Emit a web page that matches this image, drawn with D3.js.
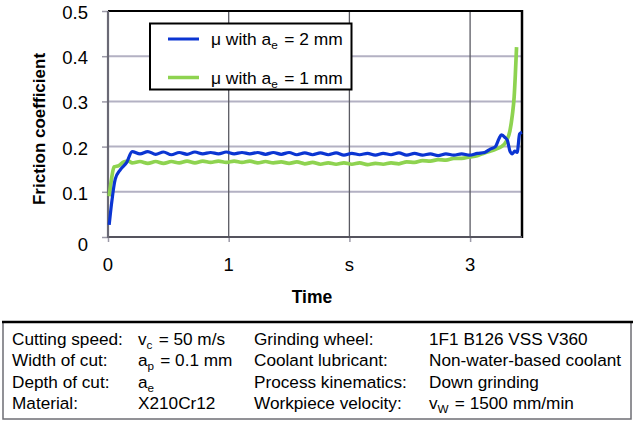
<!DOCTYPE html>
<html>
<head>
<meta charset="utf-8">
<script src="https://cdn.jsdelivr.net/npm/d3@7"></script>
<style>
  body { margin: 0; background: #fff; }
  svg { display: block; font-family: Arial, "Liberation Sans", sans-serif; }
</style>
</head>
<body>
<script>
// data
var blueTime = [0.01, 0.03, 0.06, 0.10, 0.155, 0.20, 0.265, 0.33, 0.395, 0.46, 0.525, 0.59, 0.655, 0.72, 0.785, 0.85, 0.915, 0.98,
  1.045, 1.11, 1.175, 1.24, 1.305, 1.37, 1.435, 1.50, 1.565, 1.63, 1.695, 1.76, 1.825, 1.89, 1.955, 2.02, 2.085, 2.15, 2.215, 2.28,
  2.345, 2.41, 2.475, 2.54, 2.605, 2.67, 2.735, 2.80, 2.865, 2.93, 2.995, 3.06, 3.12, 3.17, 3.21, 3.24, 3.26, 3.29, 3.31, 3.33,
  3.35, 3.37, 3.39, 3.41, 3.43];
var blueMu = [0.027, 0.075, 0.128, 0.148, 0.165, 0.189, 0.184, 0.189, 0.183, 0.188, 0.182, 0.187, 0.183, 0.188, 0.184, 0.187, 0.184, 0.188,
  0.184, 0.187, 0.184, 0.187, 0.183, 0.187, 0.183, 0.187, 0.182, 0.186, 0.182, 0.186, 0.182, 0.186, 0.181, 0.185, 0.182, 0.185, 0.181, 0.185,
  0.182, 0.186, 0.181, 0.185, 0.181, 0.184, 0.18, 0.184, 0.181, 0.184, 0.181, 0.185, 0.187, 0.195, 0.2, 0.218, 0.226, 0.22, 0.213, 0.19,
  0.184, 0.19, 0.187, 0.228, 0.232];

var greenTime = [0.01, 0.03, 0.05, 0.09, 0.13, 0.17, 0.20, 0.265, 0.33, 0.395, 0.46, 0.525, 0.59, 0.655, 0.72, 0.785, 0.85, 0.915, 0.98,
  1.045, 1.11, 1.175, 1.24, 1.305, 1.37, 1.435, 1.50, 1.565, 1.63, 1.695, 1.76, 1.825, 1.89, 1.955, 2.02, 2.085, 2.15, 2.215, 2.28,
  2.345, 2.41, 2.475, 2.54, 2.605, 2.67, 2.735, 2.80, 2.865, 2.93, 2.995, 3.06, 3.12, 3.17, 3.22, 3.26, 3.30, 3.33, 3.35, 3.365,
  3.375, 3.385];
var greenMu = [0.09, 0.13, 0.155, 0.158, 0.166, 0.168, 0.164, 0.167, 0.163, 0.167, 0.163, 0.167, 0.164, 0.168, 0.164, 0.168, 0.165, 0.168, 0.165,
  0.168, 0.165, 0.168, 0.164, 0.167, 0.164, 0.166, 0.163, 0.166, 0.162, 0.165, 0.161, 0.164, 0.161, 0.164, 0.161, 0.164, 0.16, 0.163, 0.161,
  0.164, 0.162, 0.166, 0.165, 0.169, 0.168, 0.171, 0.17, 0.174, 0.174, 0.177, 0.18, 0.186, 0.19, 0.195, 0.2, 0.212, 0.235, 0.27, 0.31,
  0.36, 0.42];

var yTicks = [0, 0.1, 0.2, 0.3, 0.4, 0.5];
var yTickLabels = ["0", "0.1", "0.2", "0.3", "0.4", "0.5"];
var xTicks = [0, 1, 2, 3];
var xTickLabels = ["0", "1", "s", "3"];

var seriesNames = ["\u03bc with a_{e} = 2 mm", "\u03bc with a_{e} = 1 mm"];

var paramNames1 = ["Cutting speed:", "Width of cut:", "Depth of cut:", "Material:"];
var paramValues1 = ["v_{c} = 50 m/s", "a_{p} = 0.1 mm", "a_{e}", "X210Cr12"];
var paramNames2 = ["Grinding wheel:", "Coolant lubricant:", "Process kinematics:", "Workpiece velocity:"];
var paramValues2 = ["1F1 B126 VSS V360", "Non-water-based coolant", "Down grinding", "v_{W} = 1500 mm/min"];

var W = 633, H = 422;
var plot = {left: 108, right: 522, top: 11, bottom: 237};
var blue = "#0b35d2", green = "#8ed350";

var svg = d3.select("body").append("svg")
  .attr("width", W)
  .attr("height", H);

var x = d3.scaleLinear().domain([0, 3.43]).range([plot.left, plot.right]);
var y = d3.scaleLinear().domain([0, 0.5]).range([plot.bottom, plot.top]);

// writes "a_{e}" style strings as text with subscripts
function richText(sel, str, size) {
  var parts = str.split(/_\{([^}]*)\}/);
  parts.forEach(function(p, i) {
    if (p === "") return;
    if (i % 2 === 1) {
      sel.append("tspan").attr("font-size", size * 0.68).attr("dy", 4).text(p);
      sel.append("tspan").attr("dy", -4).text("\u200a");
    } else {
      sel.append("tspan").text(p);
    }
  });
}

// grid
svg.append("g")
  .selectAll("line")
  .data(yTicks.slice(1, 5))
  .enter().append("line")
    .attr("x1", plot.left).attr("x2", plot.right)
    .attr("y1", function(d) { return y(d); })
    .attr("y2", function(d) { return y(d); })
    .attr("stroke", "#b3b1c3")
    .attr("stroke-width", 2);

svg.append("g")
  .selectAll("line")
  .data(xTicks.slice(1))
  .enter().append("line")
    .attr("x1", function(d) { return x(d); })
    .attr("x2", function(d) { return x(d); })
    .attr("y1", plot.top).attr("y2", plot.bottom)
    .attr("stroke", "#5a5a62")
    .attr("stroke-width", 1.3);

// axes: tick marks only, labels are drawn by hand
var yAxis = svg.append("g")
  .attr("transform", "translate(" + plot.left + ",0)")
  .call(d3.axisLeft(y).tickValues(yTicks).tickSize(6).tickFormat(""));
var xAxis = svg.append("g")
  .attr("transform", "translate(0," + plot.bottom + ")")
  .call(d3.axisBottom(x).tickValues(xTicks).tickSize(5).tickFormat(""));
[yAxis, xAxis].forEach(function(a) {
  a.select(".domain").remove();
  a.selectAll(".tick line").attr("stroke", "#9c9aa8").attr("stroke-width", 1.5);
});

// plot frame
svg.append("line")
  .attr("x1", plot.left).attr("x2", plot.right)
  .attr("y1", plot.top).attr("y2", plot.top)
  .attr("stroke", "#000").attr("stroke-width", 2);
svg.append("line")
  .attr("x1", plot.right).attr("x2", plot.right)
  .attr("y1", plot.top - 1).attr("y2", plot.bottom + 1)
  .attr("stroke", "#000").attr("stroke-width", 2.5);
svg.append("line")
  .attr("x1", plot.left).attr("x2", plot.right)
  .attr("y1", plot.bottom).attr("y2", plot.bottom)
  .attr("stroke", "#55545e").attr("stroke-width", 2);
svg.append("line")
  .attr("x1", plot.left).attr("x2", plot.left)
  .attr("y1", plot.top).attr("y2", plot.bottom + 1)
  .attr("stroke", "#6a6975").attr("stroke-width", 2.2);

// tick labels
svg.append("g")
  .selectAll("text")
  .data(yTicks)
  .enter().append("text")
    .attr("x", 88)
    .attr("y", function(d) { return y(d) + (d === 0 ? 14 : 8); })
    .attr("text-anchor", "end")
    .attr("font-size", 18.5)
    .text(function(d, i) { return yTickLabels[i]; });

svg.append("g")
  .selectAll("text")
  .data(xTicks)
  .enter().append("text")
    .attr("x", function(d) { return x(d); })
    .attr("y", 270.5)
    .attr("text-anchor", "middle")
    .attr("font-size", 18.5)
    .text(function(d, i) { return xTickLabels[i]; });

// axis titles
svg.append("text")
  .attr("x", 312).attr("y", 303)
  .attr("text-anchor", "middle")
  .attr("font-size", 17.5)
  .attr("font-weight", "bold")
  .text("Time");

svg.append("text")
  .attr("transform", "translate(45,129) rotate(-90)")
  .attr("text-anchor", "middle")
  .attr("font-size", 17)
  .attr("font-weight", "bold")
  .text("Friction coefficient");

// series
var line = d3.line()
  .x(function(d) { return x(d[0]); })
  .y(function(d) { return y(d[1]); })
  .curve(d3.curveMonotoneX);

svg.append("path")
  .datum(greenTime.map(function(t, i) { return [t, greenMu[i]]; }))
  .attr("d", line)
  .attr("fill", "none")
  .attr("stroke", green)
  .attr("stroke-width", 3.7)
  .attr("stroke-linejoin", "round");

svg.append("path")
  .datum(blueTime.map(function(t, i) { return [t, blueMu[i]]; }))
  .attr("d", line)
  .attr("fill", "none")
  .attr("stroke", blue)
  .attr("stroke-width", 3.2)
  .attr("stroke-linejoin", "round");

// legend
var legend = svg.append("g");
legend.append("rect")
  .attr("x", 150).attr("y", 23.5)
  .attr("width", 201.5).attr("height", 66)
  .attr("fill", "#fff")
  .attr("stroke", "#000")
  .attr("stroke-width", 2);
[blue, green].forEach(function(c, i) {
  var ly = 39 + i * 38.5;
  legend.append("line")
    .attr("x1", 168).attr("x2", 199)
    .attr("y1", ly).attr("y2", ly)
    .attr("stroke", c)
    .attr("stroke-width", i === 0 ? 3 : 3.5);
  var t = legend.append("text")
    .attr("x", 211).attr("y", ly + 6)
    .attr("font-size", 17.4);
  richText(t, seriesNames[i], 17.4);
});

// parameter table
svg.append("rect")
  .attr("x", 3).attr("y", 322)
  .attr("width", 628).attr("height", 97)
  .attr("fill", "none")
  .attr("stroke", "#6e6e74")
  .attr("stroke-width", 1.5);
svg.append("line")
  .attr("x1", 2).attr("x2", 633)
  .attr("y1", 322).attr("y2", 322)
  .attr("stroke", "#000").attr("stroke-width", 2.5);

var colX = [12, 138, 254, 429];
var rowY = [345, 366, 387.5, 409];
[paramNames1, paramValues1, paramNames2, paramValues2].forEach(function(col, c) {
  col.forEach(function(s, r) {
    var t = svg.append("text")
      .attr("x", colX[c]).attr("y", rowY[r])
      .attr("font-size", 17.2);
    richText(t, s, 17.2);
  });
});
</script>
</body>
</html>
